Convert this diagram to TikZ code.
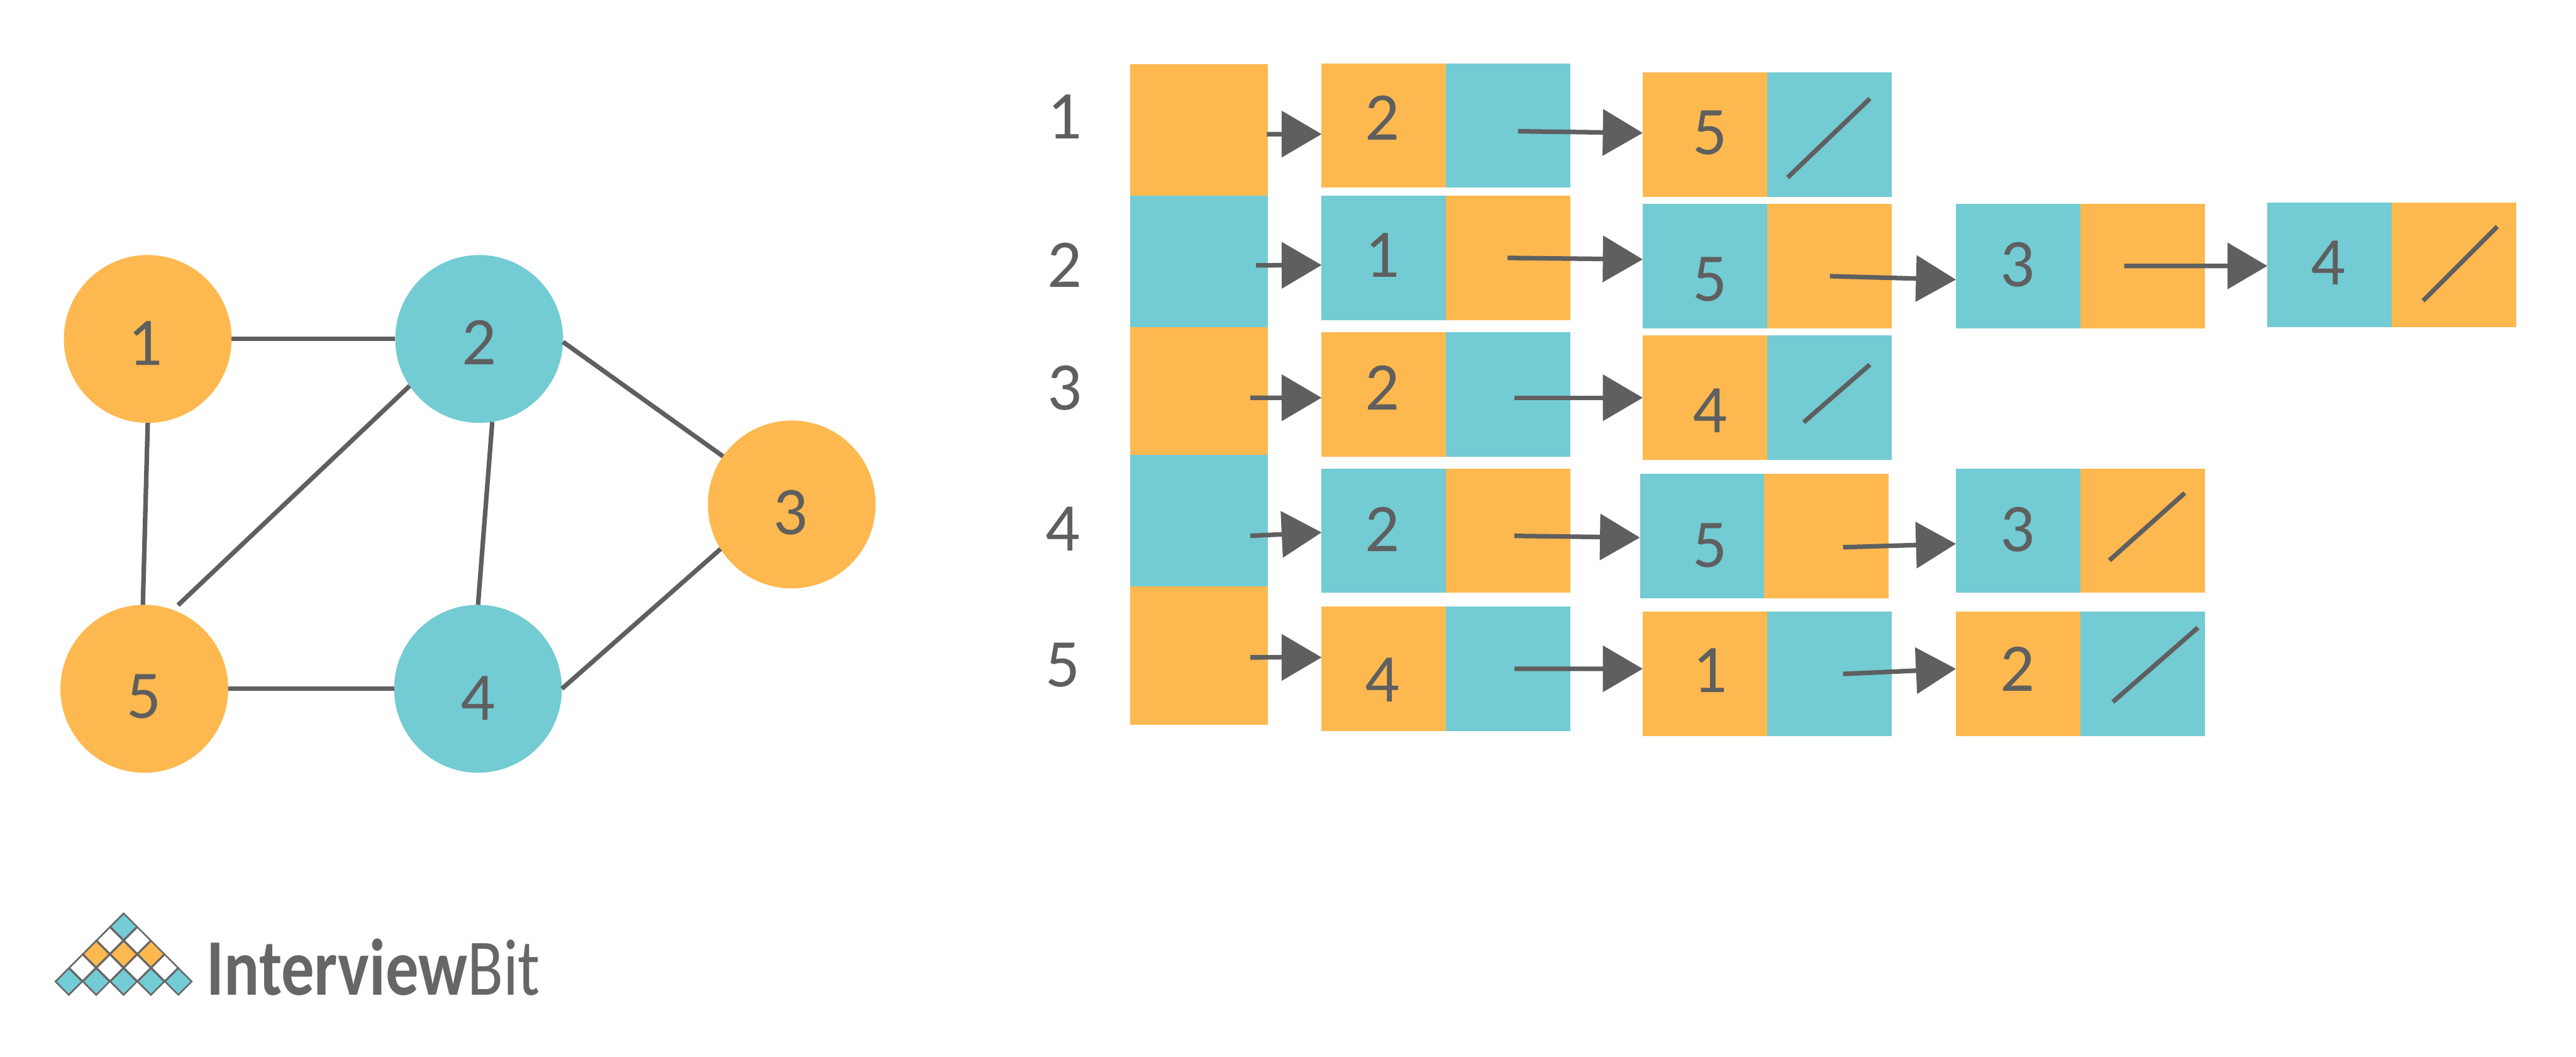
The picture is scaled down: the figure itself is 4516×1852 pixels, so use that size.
\documentclass[tikz,border=0pt]{standalone}
\usepackage{xcolor}
\usepackage{fontspec}
\setmainfont{Carlito}
\usetikzlibrary{positioning, arrows.meta, shapes.geometric}

\definecolor{cellorange}{HTML}{FDB94F}
\definecolor{cellcyan}{HTML}{73CBD3}
\definecolor{linegray}{HTML}{5F5F5F}
\definecolor{logogray}{HTML}{666666}

\tikzset{
    vertex/.style={circle, minimum size=2.94cm, inner sep=0pt, outer sep=0pt},
    numtext/.style={inner sep=0pt, text=linegray, font=\fontsize{34}{40}\selectfont},
    edge/.style={draw=linegray, line width=0.08cm},
    link/.style={draw=linegray, line width=0.08cm, -{Triangle[length=0.7cm, width=0.8cm]}},
    headcell/.style={rectangle, minimum width=2.42cm, inner sep=0pt, outer sep=0pt},
    cell/.style={rectangle, minimum width=2.18cm, minimum height=2.18cm, inner sep=0pt, outer sep=0pt},
    logocell/.style={diamond, aspect=1, minimum width=0.48cm, minimum height=0.48cm, inner sep=0pt, draw=logogray, line width=0.028cm}
}

\begin{document}
\begin{tikzpicture}[x=0.01cm, y=-0.01cm]
    \useasboundingbox (0,0) rectangle (4516,1852);

    % graph
    \node[vertex, fill=cellorange] (v1) at (259,594) {};
    \node[vertex, fill=cellcyan] (v2) at (840,594) {};
    \node[vertex, fill=cellorange] (v3) at (1388,884) {};
    \node[vertex, fill=cellcyan] (v4) at (838,1207) {};
    \node[vertex, fill=cellorange] (v5) at (253,1207) {};

    \node[numtext] (t1) at (255,602) {1};
    \node[numtext] (t2) at (840,600) {2};
    \node[numtext] (t3) at (1386,898) {3};
    \node[numtext] (t4) at (838,1224) {4};
    \node[numtext] (t5) at (253,1221) {5};

    \draw[edge] (v1.east) -- (v2.west);
    \draw[edge] (v1.270) -- (v5.91);
    \draw[edge, shorten >=0.12cm] (v2.214) -- (v5.70);
    \draw[edge] (v2.279) -- (v4.north);
    \draw[edge] (v2.358) -- (v3.145);
    \draw[edge] (v3.212) -- (v4.east);
    \draw[edge] (v5.east) -- (v4.west);

    % logo
    \foreach \i in {0} {\node[logocell, fill=cellcyan] (da\i) at (216.7,1624) {};}
    \foreach \i in {-1,1} {\node[logocell, fill=white] (db\i) at (216.7+24*\i,1648) {};}
    \foreach \i in {-2,0,2} {\node[logocell, fill=cellorange] (dc\i) at (216.7+24*\i,1672) {};}
    \foreach \i in {-3,-1,1,3} {\node[logocell, fill=white] (dd\i) at (216.7+24*\i,1696) {};}
    \foreach \i in {-4,-2,0,2,4} {\node[logocell, fill=cellcyan] (de\i) at (216.7+24*\i,1720) {};}
    \node[anchor=base west, inner sep=0pt, text=logogray, font=\fontsize{40}{48}\selectfont] (brand) at (362,1744) {\scalebox{0.82}[1]{\textbf{Interview}Bit}};

    % row labels
    \node[numtext] (l1) at (1866,205) {1};
    \node[numtext] (l2) at (1866,464) {2};
    \node[numtext] (l3) at (1866,680) {3};
    \node[numtext] (l4) at (1863,927) {4};
    \node[numtext] (l5) at (1863,1166) {5};

    % head column
    \node[headcell, minimum height=2.31cm, fill=cellorange] (h1) at (2102,227.5) {};
    \node[headcell, minimum height=2.30cm, fill=cellcyan] (h2) at (2102,458) {};
    \node[headcell, minimum height=2.24cm, fill=cellorange] (h3) at (2102,685) {};
    \node[headcell, minimum height=2.31cm, fill=cellcyan] (h4) at (2102,912.5) {};
    \node[headcell, minimum height=2.42cm, fill=cellorange] (h5) at (2102,1149) {};

    % row 1
    \node[cell, fill=cellorange] (r1a) at (2426,220) {};
    \node[cell, fill=cellcyan, right=0pt of r1a] (r1ap) {};
    \node[cell, fill=cellorange] (r1b) at (2989,236) {};
    \node[cell, fill=cellcyan, right=0pt of r1b] (r1bp) {};
    \node[numtext] (n1a) at (2423,207) {2};
    \node[numtext] (n1b) at (2998,233) {5};

    % row 2
    \node[cell, fill=cellcyan] (r2a) at (2426,452) {};
    \node[cell, fill=cellorange, right=0pt of r2a] (r2ap) {};
    \node[cell, fill=cellcyan] (r2b) at (2989,466) {};
    \node[cell, fill=cellorange, right=0pt of r2b] (r2bp) {};
    \node[cell, fill=cellcyan] (r2c) at (3538,466) {};
    \node[cell, fill=cellorange, right=0pt of r2c] (r2cp) {};
    \node[cell, fill=cellcyan] (r2d) at (4084,464) {};
    \node[cell, fill=cellorange, right=0pt of r2d] (r2dp) {};
    \node[numtext] (n2a) at (2423,447) {1};
    \node[numtext] (n2b) at (2998,490) {5};
    \node[numtext] (n2c) at (3537,464) {3};
    \node[numtext] (n2d) at (4081,461) {4};

    % row 3
    \node[cell, fill=cellorange] (r3a) at (2426,691) {};
    \node[cell, fill=cellcyan, right=0pt of r3a] (r3ap) {};
    \node[cell, fill=cellorange] (r3b) at (2989,697) {};
    \node[cell, fill=cellcyan, right=0pt of r3b] (r3bp) {};
    \node[numtext] (n3a) at (2423,680) {2};
    \node[numtext] (n3b) at (2998,720) {4};

    % row 4
    \node[cell, fill=cellcyan] (r4a) at (2426,930) {};
    \node[cell, fill=cellorange, right=0pt of r4a] (r4ap) {};
    \node[cell, fill=cellcyan] (r4b) at (2984,939) {};
    \node[cell, fill=cellorange, right=0pt of r4b] (r4bp) {};
    \node[cell, fill=cellcyan] (r4c) at (3538,930) {};
    \node[cell, fill=cellorange, right=0pt of r4c] (r4cp) {};
    \node[numtext] (n4a) at (2423,928) {2};
    \node[numtext] (n4b) at (2998,956) {5};
    \node[numtext] (n4c) at (3537,928) {3};

    % row 5
    \node[cell, fill=cellorange] (r5a) at (2426,1172) {};
    \node[cell, fill=cellcyan, right=0pt of r5a] (r5ap) {};
    \node[cell, fill=cellorange] (r5b) at (2989,1181) {};
    \node[cell, fill=cellcyan, right=0pt of r5b] (r5bp) {};
    \node[cell, fill=cellorange] (r5c) at (3538,1181) {};
    \node[cell, fill=cellcyan, right=0pt of r5c] (r5cp) {};
    \node[numtext] (n5a) at (2423,1192) {4};
    \node[numtext] (n5b) at (2998,1175) {1};
    \node[numtext] (n5c) at (3537,1172) {2};

    % list ends
    \draw[edge] (3134,311) -- (3278,173);
    \draw[edge] (4248,527) -- (4378,397);
    \draw[edge] (3162,740) -- (3278,639);
    \draw[edge] (3698,982) -- (3830,864);
    \draw[edge] (3704,1230) -- (3853,1100);

    % pointers
    \coordinate (s1) at (2221,235);
    \coordinate (s2) at (2202,465);
    \coordinate (s3) at (2192,697);
    \coordinate (s4) at (2192,939);
    \coordinate (s5) at (2192,1152);
    \coordinate (s1a) at (2661,230);
    \coordinate (s2a) at (2643,452);
    \coordinate (s2b) at (3208,484);
    \coordinate (s2c) at (3724,466);
    \coordinate (s3a) at (2655,697);
    \coordinate (s4a) at (2655,939);
    \coordinate (s4b) at (3231,959);
    \coordinate (s5a) at (2655,1172);
    \coordinate (s5b) at (3231,1181);

    \draw[link] (s1) -- ([yshift=-0.15cm]r1a.west);
    \draw[link] (s1a) -- ([yshift=0.03cm]r1b.west);
    \draw[link] (s2) -- ([yshift=-0.125cm]r2a.west);
    \draw[link] (s2a) -- ([yshift=0.115cm]r2b.west);
    \draw[link] (s2b) -- ([yshift=-0.24cm]r2c.west);
    \draw[link] (s2c) -- ([yshift=-0.02cm]r2d.west);
    \draw[link] (s3) -- ([yshift=-0.06cm]r3a.west);
    \draw[link] (s3a) -- (r3b.west);
    \draw[link] (s4) -- ([yshift=-0.03cm]r4a.west);
    \draw[link] (s4a) -- ([yshift=-0.03cm]r4b.west);
    \draw[link] (s4b) -- ([yshift=-0.23cm]r4c.west);
    \draw[link] (s5) -- ([yshift=0.2cm]r5a.west);
    \draw[link] (s5a) -- ([yshift=0.09cm]r5b.west);
    \draw[link] (s5b) -- ([yshift=0.09cm]r5c.west);
\end{tikzpicture}
\end{document}
